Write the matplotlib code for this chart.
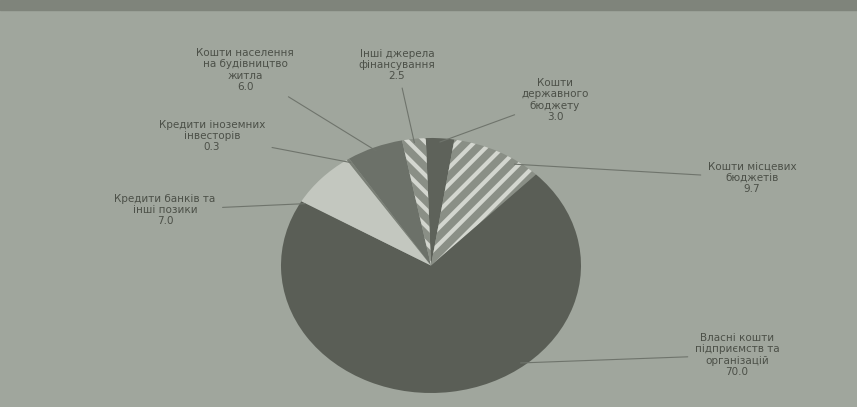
import numpy as np
import matplotlib
matplotlib.use("Agg")
import matplotlib.pyplot as plt

# clockwise from the top of the pie
labels = [
    "Кошти\nдержавного\nбюджету\n3.0",
    "Кошти місцевих\nбюджетів\n9.7",
    "Власні кошти\nпідприємств та\nорганізацій\n70.0",
    "Кредити банків та\nінші позики\n7.0",
    "Кредити іноземних\nінвесторів\n0.3",
    "Кошти населення\nна будівництво\nжитла\n6.0",
    "Інші джерела\nфінансування\n2.5",
]
values = [3.0, 9.7, 70.0, 7.0, 0.3, 6.0, 2.5]
colors = ["#5e625a", "#8a8f86", "#5a5e56", "#c3c7bf", "#7a7f76", "#6c7169", "#8a8f86"]
hatches = [None, "//", None, None, None, None, "\\\\"]

# label centres in figure pixels (x from left, y from top)
label_pos = [(555, 100), (752, 178), (737, 355), (165, 210), (212, 136), (245, 70), (397, 65)]
# where the leader meets the pie (degrees), None = middle of the slice
anchor_deg = [None, 55, -52, 150, None, None, None]

W, H = 857, 407
bg = "#a0a69d"
plt.rcParams["hatch.linewidth"] = 3.0

fig = plt.figure(figsize=(W / 100, H / 100), dpi=100, facecolor=bg)

# pie sits in its own axes, stretched a little so it reads as an ellipse
pl, pt, pw, ph = 281, 138, 300, 255
ax = fig.add_axes([pl / W, (H - pt - ph) / H, pw / W, ph / H])
ax.set_facecolor(bg)
wedges, _ = ax.pie(values, colors=colors, startangle=92, counterclock=False,
                   radius=1.0, wedgeprops=dict(linewidth=0))
for w, h in zip(wedges, hatches):
    if h:
        w.set_hatch(h)
        w.set_edgecolor("#d3d6cf")
ax.set_xlim(-1, 1)
ax.set_ylim(-1, 1)
ax.set_aspect("auto")
ax.axis("off")

for w, lab, (tx, ty), adeg in zip(wedges, labels, label_pos, anchor_deg):
    if adeg is None:
        adeg = (w.theta1 + w.theta2) / 2
    a = np.deg2rad(adeg)
    ex, ey = 0.97 * np.cos(a), 0.97 * np.sin(a)
    ax.annotate(lab, xy=(ex, ey), xycoords="data",
                xytext=(tx, H - ty), textcoords="figure pixels",
                ha="center", va="center", fontsize=7.5, color="#4c5048",
                linespacing=1.15,
                arrowprops=dict(arrowstyle="-", color="#6f746c", lw=0.8,
                                shrinkA=3, shrinkB=0))

# dark band of a cut-off caption along the top edge
fig.patches.append(plt.Rectangle((0, 1 - 10 / H), 1, 10 / H, transform=fig.transFigure,
                                 color="#7f847b", zorder=0))

fig.savefig("out.png", dpi=100, facecolor=bg)
